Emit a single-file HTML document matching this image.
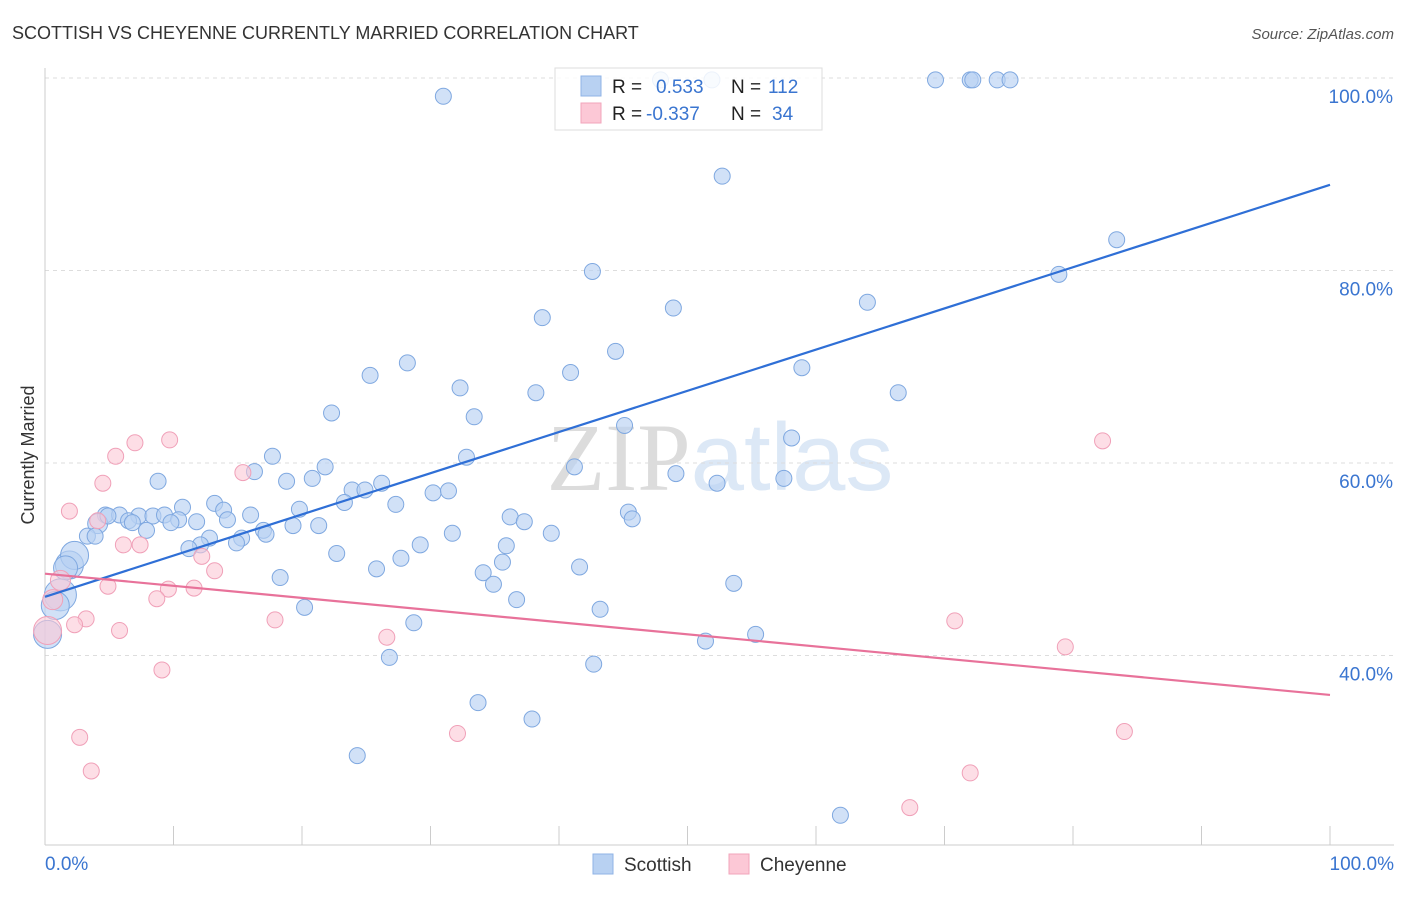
<!DOCTYPE html>
<html><head><meta charset="utf-8">
<style>
body{margin:0;background:#fff;font-family:"Liberation Sans",sans-serif;}
svg text{font-family:"Liberation Sans",sans-serif;}
</style></head>
<body>
<svg id="chart" width="1406" height="892">
<text x="12" y="39" font-size="18" fill="#333">SCOTTISH VS CHEYENNE CURRENTLY MARRIED CORRELATION CHART</text>
<text x="1394" y="39" font-size="15" fill="#555" font-style="italic" text-anchor="end">Source: ZipAtlas.com</text>
<text x="720" y="490" font-size="96" fill="#e4e4e4" text-anchor="middle"><tspan font-family="Liberation Serif" fill="#dcdcdc">ZIP</tspan><tspan fill="#dce8f6">atlas</tspan></text>
<text x="34" y="455" font-size="18" fill="#333" text-anchor="middle" transform="rotate(-90 34 455)">Currently Married</text>
<g id="grid"></g>
<g id="pts"></g>
<g id="lines"></g>
<g>
<rect x="555" y="68" width="267" height="62" fill="#fff" fill-opacity="0.85" stroke="#ddd"/>
<rect x="581" y="76" width="20" height="20" fill="#b8d1f2" stroke="#8fb3e6"/>
<rect x="581" y="103" width="20" height="20" fill="#fcc8d6" stroke="#f2a5bb"/>
<text x="612" y="93" font-size="19" fill="#222">R =</text>
<text x="656" y="93" font-size="19" fill="#3a75d0">0.533</text>
<text x="731" y="93" font-size="19" fill="#222">N =</text>
<text x="768" y="93" font-size="19" fill="#3a75d0">112</text>
<text x="612" y="120" font-size="19" fill="#222">R =</text>
<text x="646" y="120" font-size="19" fill="#3a75d0">-0.337</text>
<text x="731" y="120" font-size="19" fill="#222">N =</text>
<text x="772" y="120" font-size="19" fill="#3a75d0">34</text>
</g>
<g>
<rect x="593" y="854" width="20" height="20" fill="#b8d1f2" stroke="#8fb3e6"/>
<text x="624" y="871" font-size="19" fill="#333">Scottish</text>
<rect x="729" y="854" width="20" height="20" fill="#fcc8d6" stroke="#f2a5bb"/>
<text x="760" y="871" font-size="19" fill="#333">Cheyenne</text>
</g>
</svg>
<script>
const scotX=[31,51.9,69.3,72,72.2,74.1,75.1,47.9,52.7,83.4,78.9,42.6,64,48.9,38.7,44.4,28.2,25.3,40.9,58.9,32.3,38.2,66.4,33.4,22.3,45.1,58.1,32.8,17.7,41.2,49.1,16.3,21.8,8.8,18.8,20.8,26.2,23.9,24.9,52.3,57.5,30.2,31.4,23.3,27.3,13.2,10.7,13.9,19.8,4.7,5.8,7.3,8.4,9.3,10.4,16,6.5,6.8,9.8,11.8,14.2,36.2,37.3,45.4,45.7,4.1,7.9,17,19.3,21.3,31.7,39.4,3.3,3.9,12.8,15.3,14.9,17.2,12.1,11.2,29.2,35.9,22.7,27.7,35.6,41.6,25.8,34.1,18.3,34.9,53.6,36.7,20.2,43.2,28.7,51.4,55.3,26.8,42.7,33.7,37.9,24.3,61.9,1.9,2.3,1.6,1.2,0.8,0.2,4.9];
const scotY=[98.1,99.8,99.8,99.8,99.8,99.8,99.8,99.8,89.8,83.2,79.6,79.9,76.7,76.1,75.1,71.6,70.4,69.1,69.4,69.9,67.8,67.3,67.3,64.8,65.2,63.9,62.6,60.6,60.7,59.6,58.9,59.1,59.6,58.1,58.1,58.4,57.9,57.2,57.2,57.9,58.4,56.9,57.1,55.9,55.7,55.8,55.4,55.1,55.2,54.6,54.6,54.5,54.5,54.6,54.1,54.6,54,53.8,53.8,53.9,54.1,54.4,53.9,54.9,54.2,53.7,53,53,53.5,53.5,52.7,52.7,52.4,52.4,52.2,52.2,51.7,52.6,51.5,51.1,51.5,51.4,50.6,50.1,49.7,49.2,49,48.6,48.1,47.4,47.5,45.8,45,44.8,43.4,41.5,42.2,39.8,39.1,35.1,33.4,29.6,23.4,49.4,50.4,49.1,46.3,45.2,42.2,54.5];
const scotR=[8,8,8,8,8,8,8,8,8,8,8,8,8,8,8,8,8,8,8,8,8,8,8,8,8,8,8,8,8,8,8,8,8,8,8,8,8,8,8,8,8,8,8,8,8,8,8,8,8,8,8,8,8,8,8,8,8,8,8,8,8,8,8,8,8,10,8,8,8,8,8,8,8,8,8,8,8,8,8,8,8,8,8,8,8,8,8,8,8,8,8,8,8,8,8,8,8,8,8,8,8,8,8,14,14,12,16,14,14,8];
const cheyX=[1.9,4.5,7,9.7,5.5,15.4,4.1,6.1,7.4,12.2,13.2,4.9,9.6,11.6,8.7,3.2,2.3,5.8,17.9,26.6,9.1,2.7,3.6,32.1,70.8,79.4,82.3,84,72,67.3,0.6,0.2,1.2];
const cheyY=[55,57.9,62.1,62.4,60.7,59,54,51.5,51.5,50.3,48.8,47.2,46.9,47,45.9,43.8,43.2,42.6,43.7,41.9,38.5,31.5,28,31.9,43.6,40.9,62.3,32.1,27.8,24.2,45.8,42.6,47.8];
const cheyR=[8,8,8,8,8,8,8,8,8,8,8,8,8,8,8,8,8,8,8,8,8,8,8,8,8,8,8,8,8,8,10,14,10];
const yTicks=[40,60,80,100];
const xTickLabels=["0.0%","100.0%"];
const blueLine=[46.1,88.9];
const pinkLine=[48.5,35.9];
const X=v=>45+v*12.85;
const Y=v=>78+(100-v)*9.625;
const NS="http://www.w3.org/2000/svg";
function mk(t,a,p){const e=document.createElementNS(NS,t);for(const k in a)e.setAttribute(k,a[k]);p.appendChild(e);return e;}
const grid=document.getElementById('grid');
yTicks.forEach(v=>{
 const l=mk('line',{x1:45,x2:1394,y1:Y(v),y2:Y(v),stroke:'#ddd','stroke-dasharray':'4,4'},grid);
 
 
 const t=mk('text',{x:1393,y:Y(v)+25,'font-size':19,fill:'#3a75d0','text-anchor':'end'},grid);
 t.textContent=v.toFixed(1)+'%';
 
 
});
const ax=mk('line',{x1:45,x2:1394,y1:845,y2:845,stroke:'#ccc'},grid);


const ay=mk('line',{x1:45,x2:45,y1:68,y2:845,stroke:'#ccc'},grid);


for(let i=0;i<=10;i++){
 const tk=mk('line',{x1:X(i*10),x2:X(i*10),y1:826,y2:845,stroke:'#ccc'},grid);
 
 
}
[[0,'start',45],[100,'end',1394]].forEach((d,i)=>{
 const t=mk('text',{x:d[2],y:870,'font-size':19,fill:'#3a75d0','text-anchor':d[1]},grid);
 t.textContent=xTickLabels[i];
 
 
});
const pts=document.getElementById('pts');
scotX.forEach((x,i)=>{
 const c=mk('circle',{cx:X(x),cy:Y(scotY[i]),r:scotR[i],fill:'#b8d1f2','fill-opacity':0.65,stroke:'#7fa8e0','stroke-width':1},pts);
 
 
});
cheyX.forEach((x,i)=>{
 const c=mk('circle',{cx:X(x),cy:Y(cheyY[i]),r:cheyR[i],fill:'#fcc8d6','fill-opacity':0.6,stroke:'#f0a0b8','stroke-width':1},pts);
 
 
});
const lines=document.getElementById('lines');
const bl=mk('line',{x1:X(0),y1:Y(blueLine[0]),x2:X(100),y2:Y(blueLine[1]),stroke:'#2f6fd6','stroke-width':2.2},lines);


const pl=mk('line',{x1:X(0),y1:Y(pinkLine[0]),x2:X(100),y2:Y(pinkLine[1]),stroke:'#e8729a','stroke-width':2.2},lines);


</script>
</body></html>
